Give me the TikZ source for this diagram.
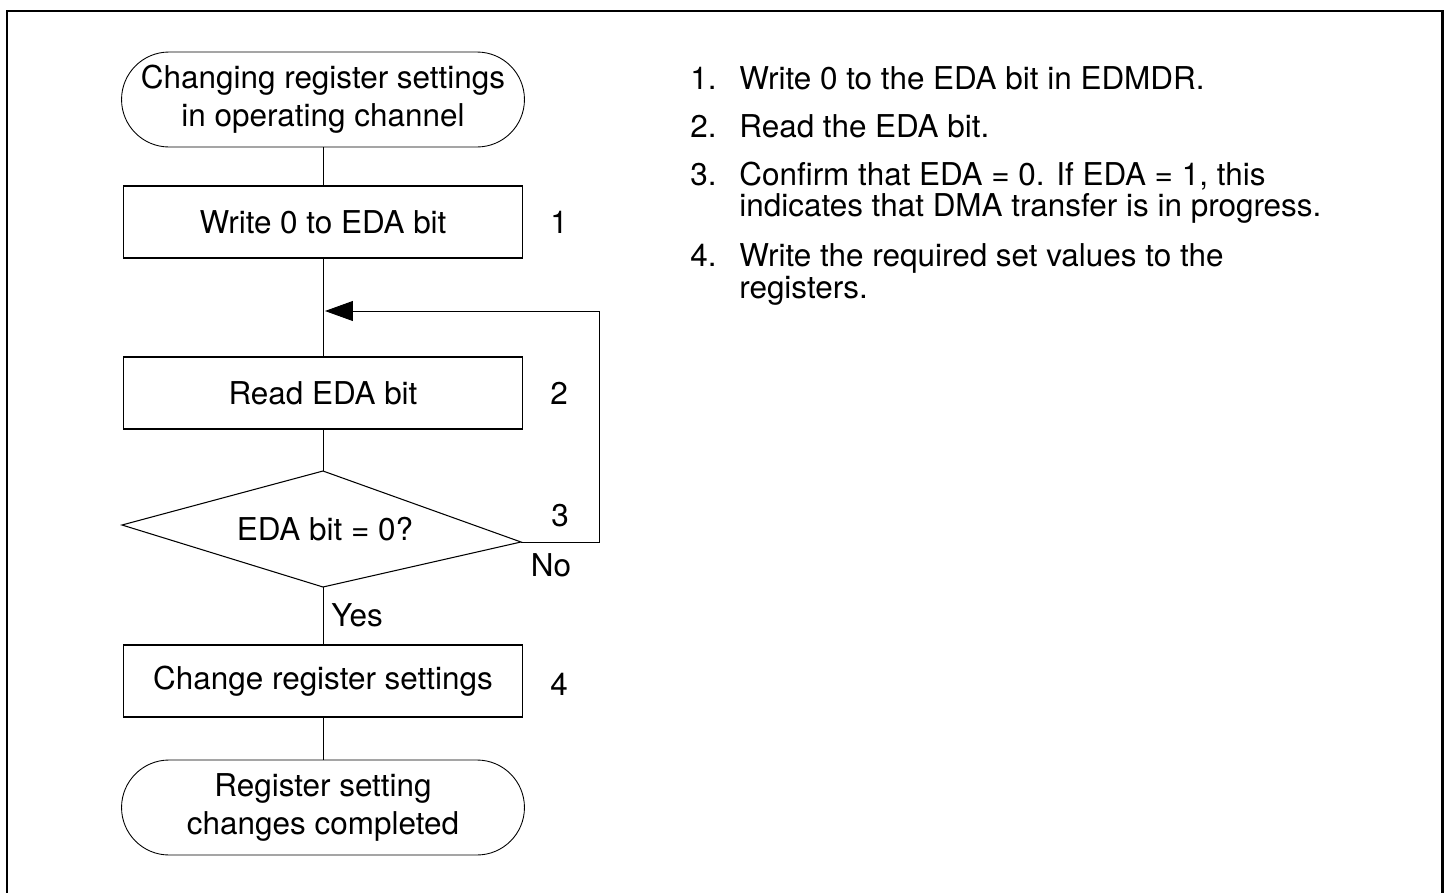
\documentclass[tikz,border=0pt]{standalone}
\usepackage{fontspec}
\setmainfont{TeX Gyre Heros}
\usetikzlibrary{positioning, arrows.meta}

\begin{document}
\begin{tikzpicture}[
    x=0.02cm, y=-0.02cm,
    every node/.style={font=\fontsize{17.9}{21.6}\selectfont},
    term/.style={rectangle, draw=black, line width=0.5pt, rounded corners=0.95cm, minimum width=8.06cm, minimum height=1.9cm, align=center, inner sep=0pt},
    proc/.style={rectangle, draw=black, line width=0.8pt, minimum width=7.98cm, minimum height=1.44cm, inner sep=0pt},
    lbl/.style={inner sep=0pt},
    item/.style={anchor=base west, inner sep=0pt},
    conn/.style={draw=black, line width=0.55pt},
    arr/.style={conn, -{Triangle[length=0.56cm, width=0.4cm]}}
]
    \useasboundingbox (0,0) rectangle (1448,893);
    \draw[line width=1.7pt] (7,893) -- (7,11) -- (1442.5,11) -- (1442.5,893);

    % flow chart
    \node[term] (start) at (323,99.5) {Changing register settings\\in operating channel};
    \node[proc] (wr) at (323,222) {Write 0 to EDA bit};
    \node[proc] (rd) at (323,393) {Read EDA bit};
    \coordinate (dtop) at (323,471);
    \coordinate (dleft) at (122,525);
    \coordinate (dbot) at (323,587);
    \coordinate (dright) at (521,542);
    \draw[line width=0.6pt] (dtop) -- (dright) -- (dbot) -- (dleft) -- cycle;
    \node (chk) at (325,529) {EDA bit = 0?};
    \node[proc] (chg) at (323,681) {Change register settings};
    \node[term] (done) at (323,807.5) {Register setting\\changes completed};

    \draw[conn] (start) -- (wr);
    \draw[conn] (wr) -- (rd);
    \draw[conn] (rd) -- (dtop);
    \draw[conn] (dbot) -- (chg);
    \draw[conn] (chg) -- (done);

    \coordinate (lc1) at (599,542);
    \coordinate (lc2) at (599,311);
    \coordinate (back) at (325,311);
    \draw[arr] (dright) -- (lc1) -- (lc2) -- (back);

    \node[lbl] (s1) at (559,222) {1};
    \node[lbl] (s2) at (559,393) {2};
    \node[lbl] (s3) at (560,516) {3};
    \node[lbl] (s4) at (559,684) {4};
    \node[lbl] (no) at (551,565) {No};
    \node[lbl, anchor=west] (yes) at (331,615) {Yes};

    % notes
    \node[item] (n1) at (690,89) {1.};
    \node[item] (t1) at (739,89) {Write 0 to the EDA bit in EDMDR.};
    \node[item] (n2) at (690,137) {2.};
    \node[item] (t2) at (739,137) {Read the EDA bit.};
    \node[item] (n3) at (690,185) {3.};
    \node[item] (t3a) at (739,185) {Confirm that EDA = 0. If EDA = 1, this};
    \node[item] (t3b) at (739,216) {indicates that DMA transfer is in progress.};
    \node[item] (n4) at (690,266) {4.};
    \node[item] (t4a) at (739,266) {Write the required set values to the};
    \node[item] (t4b) at (739,298) {registers.};
\end{tikzpicture}
\end{document}
